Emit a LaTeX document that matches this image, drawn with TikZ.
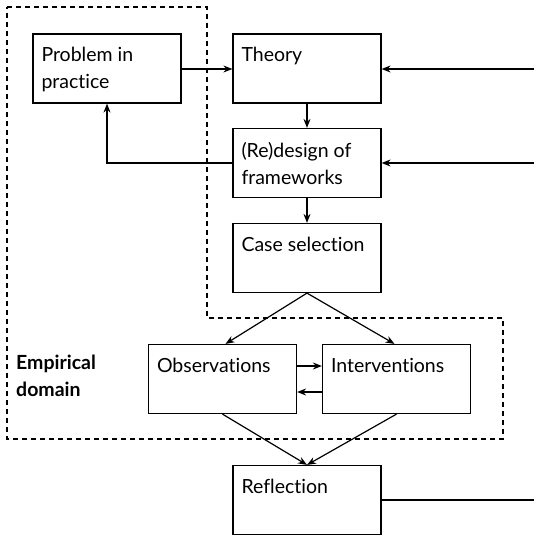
\documentclass[tikz,border=0pt]{standalone}
\usepackage{fontspec}
\setmainfont{Lato}[Ligatures=NoCommon]
\usetikzlibrary{arrows.meta}
\begin{document}
\begin{tikzpicture}[x=1pt,y=-1pt,
  every node/.style={font=\fontsize{19.5}{27}\selectfont},
  stepbox/.style={draw, line width=1.2pt, rectangle, inner xsep=8.5pt, inner ysep=13.5pt,
    minimum width=148pt, minimum height=69pt},
  conn/.style={line width=1.2pt, -{Stealth[length=9pt,width=7pt]}},
  plain/.style={line width=1.2pt},
  boundary/.style={line width=1.1pt, dash pattern=on 5pt off 4pt}]
\useasboundingbox (0,0) rectangle (534,535);
\newcommand{\boxtext}[1]{\parbox[c][42pt][t]{131pt}{\raggedright #1}}

% empirical domain boundary
\draw[boundary] (7,7) -- (207,7) -- (207,318) -- (503,318) -- (503,439) -- (7,439) -- cycle;
\node[font=\fontsize{19.5}{27}\selectfont\bfseries, align=left, anchor=north west, inner sep=0pt]
  (emp) at (16,355) {Empirical\\domain};

% process steps
\node[stepbox] (problem) at (107,68.5) {\boxtext{Problem in\\practice}};
\node[stepbox] (theory) at (307,68.5) {\boxtext{Theory}};
\node[stepbox] (design) at (307,163) {\boxtext{(Re)design of\\frameworks}};
\node[stepbox] (case) at (307,258) {\boxtext{Case selection}};
\node[stepbox] (obs) at (222.5,379) {\boxtext{Observations}};
\node[stepbox] (int) at (396.5,379) {\boxtext{Interventions}};
\node[stepbox] (refl) at (307,500) {\boxtext{Reflection}};

% free ends at the right edge
\coordinate (inT) at (534,69);
\coordinate (inD) at (534,163);
\coordinate (outR) at (534,500);

% connectors
\draw[conn] (problem.east |- 0,69) -- (theory.west |- 0,69);
\draw[conn] (theory) -- (design);
\draw[conn] (design) -- (case);
\draw[conn] (design.west) -| (problem.south);
\draw[conn] (inT) -- (theory.east |- inT);
\draw[conn] (inD) -- (design.east |- inD);
\draw[conn] (case.south) -- ([xshift=3pt]obs.north);
\draw[conn] (case.south) -- ([xshift=-2pt]int.north);
\draw[conn] (obs.east |- 0,366) -- (int.west |- 0,366);
\draw[conn] (int.west |- 0,392) -- (obs.east |- 0,392);
\draw[conn] (obs.south) -- (refl.north);
\draw[conn] (int.south) -- (refl.north);
\draw[plain] (refl.east) -- (outR);
\end{tikzpicture}
\end{document}
